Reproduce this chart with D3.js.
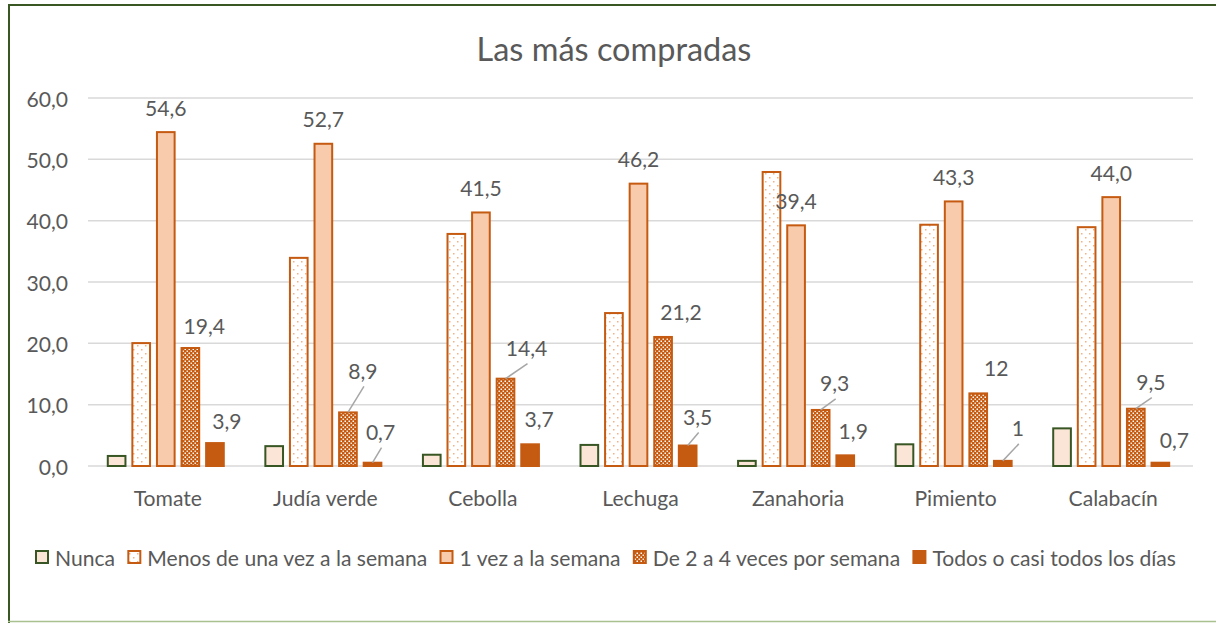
<!DOCTYPE html>
<html>
<head>
<meta charset="utf-8">
<script src="https://cdn.jsdelivr.net/npm/d3@7"></script>
<style>
  body { margin: 0; background: #fff; }
  text { font-family: Lato, "Open Sans", sans-serif; fill: #595959; }
</style>
</head>
<body>
<div id="chart"></div>
<script>
// chart values
const categories = ["Tomate", "Judía verde", "Cebolla", "Lechuga", "Zanahoria", "Pimiento", "Calabacín"];
const seriesNames = ["Nunca", "Menos de una vez a la semana", "1 vez a la semana",
  "De 2 a 4 veces por semana", "Todos o casi todos los días"];
const nunca = [1.8, 3.4, 2.0, 3.6, 1.0, 3.7, 6.3];
const menosUnaVez = [20.2, 34.1, 38.0, 25.1, 48.1, 39.5, 39.1];
const unaVez = [54.6, 52.7, 41.5, 46.2, 39.4, 43.3, 44.0];
const deDosACuatro = [19.4, 8.9, 14.4, 21.2, 9.3, 12, 9.5];
const todosLosDias = [3.9, 0.7, 3.7, 3.5, 1.9, 1, 0.7];
const yTicks = [0, 10, 20, 30, 40, 50, 60];

// hand-moved data labels: [dx, dy, leader line?] from the bar top
const shiftDe = [[14, -22, 0], [15, -41, 1], [21, -30, 1], [18, -24, 0], [14, -26, 1], [18, -25, 0], [15, -26, 1]];
const shiftTodos = [[12, -22, 0], [8, -30, 1], [9, -25, 0], [10, -28, 1], [8, -24, 0], [15, -32, 1], [14, -22, 0]];

const width = 1216, height = 623;
const svg = d3.select("#chart").append("svg")
  .attr("width", width)
  .attr("height", height);

const defs = svg.append("defs");
const dots = defs.append("pattern").attr("id", "dots")
  .attr("patternUnits", "userSpaceOnUse").attr("width", 8).attr("height", 8);
dots.append("rect").attr("width", 8).attr("height", 8).attr("fill", "#fff");
dots.append("rect").attr("x", 1).attr("y", 1).attr("width", 1.5).attr("height", 1.5).attr("fill", "#f4b183");
dots.append("rect").attr("x", 5).attr("y", 5).attr("width", 1.5).attr("height", 1.5).attr("fill", "#f4b183");

const conf = defs.append("pattern").attr("id", "confetti")
  .attr("patternUnits", "userSpaceOnUse").attr("width", 4).attr("height", 4);
conf.append("rect").attr("width", 4).attr("height", 4).attr("fill", "#c55a11");
conf.append("rect").attr("x", 0.5).attr("y", 0.5).attr("width", 1.5).attr("height", 1.5).attr("fill", "#fff");
conf.append("rect").attr("x", 2.5).attr("y", 2.5).attr("width", 1.5).attr("height", 1.5).attr("fill", "#fde9dc");

const styles = [
  {fill: "#fbe5d6", stroke: "#375623"},
  {fill: "url(#dots)", stroke: "#c55a11"},
  {fill: "#f8cbad", stroke: "#c55a11"},
  {fill: "url(#confetti)", stroke: "#c55a11"},
  {fill: "#c55a11", stroke: "#c55a11"}
];

// outer frame
svg.append("line").attr("x1", 9).attr("x2", 9).attr("y1", 4).attr("y2", 623)
  .attr("stroke", "#385723").attr("stroke-width", 2);
svg.append("line").attr("x1", 8).attr("x2", width).attr("y1", 5).attr("y2", 5)
  .attr("stroke", "#385723").attr("stroke-width", 2);
svg.append("line").attr("x1", 8).attr("x2", width).attr("y1", 621.5).attr("y2", 621.5)
  .attr("stroke", "#a9c18f").attr("stroke-width", 1.5);

// font size that gives a text a certain width
function fitSize(str, target) {
  const t = svg.append("text").attr("font-size", 100).text(str);
  const w = t.node().getComputedTextLength();
  t.remove();
  return 100 * target / w;
}
const fs = fitSize("Menos de una vez a la semana", 280);
const titleFs = fitSize("Las más compradas", 275);

const x0 = d3.scaleBand().domain(categories).range([89, 1192]);
const x1 = d3.scaleBand().domain(seriesNames).range([0, 118]).paddingInner(0.2);
const groupOff = (x0.bandwidth() - 118) / 2 - 2;
const y = d3.scaleLinear().domain([0, 60]).range([466, 98]);
const comma = d3.formatLocale({decimal: ",", thousands: ".", grouping: [3], currency: ["", "€"]});

svg.append("text")
  .attr("x", 614).attr("y", 48)
  .attr("text-anchor", "middle").attr("dominant-baseline", "central")
  .attr("font-size", titleFs)
  .text("Las más compradas");

// gridlines + y labels
svg.append("g").selectAll("line").data(yTicks).join("line")
  .attr("x1", 88).attr("x2", 1193)
  .attr("y1", d => y(d)).attr("y2", d => y(d))
  .attr("stroke", "#d9d9d9").attr("stroke-width", 1.5);
svg.append("g").selectAll("text").data(yTicks).join("text")
  .attr("x", 68).attr("y", d => y(d))
  .attr("text-anchor", "end").attr("dominant-baseline", "central")
  .attr("font-size", fs)
  .text(d => comma.format(".1f")(d));

svg.append("g").selectAll("text").data(categories).join("text")
  .attr("x", d => x0(d) + x0.bandwidth() / 2).attr("y", 497)
  .attr("text-anchor", "middle").attr("dominant-baseline", "central")
  .attr("font-size", fs)
  .text(d => d);

// bars
const seriesValues = [nunca, menosUnaVez, unaVez, deDosACuatro, todosLosDias];
const rows = [];
seriesValues.forEach((vals, s) => vals.forEach((v, i) => rows.push({s, i, v})));
const bx = d => x0(categories[d.i]) + groupOff + x1(seriesNames[d.s]);

svg.append("g").selectAll("rect").data(rows).join("rect")
  .attr("x", d => bx(d) + 1)
  .attr("y", d => y(d.v) + 1)
  .attr("width", x1.bandwidth() - 2)
  .attr("height", d => Math.max(0, y(0) - y(d.v) - 1))
  .attr("fill", d => styles[d.s].fill)
  .attr("stroke", d => styles[d.s].stroke)
  .attr("stroke-width", 2);

// data labels
const labels = [];
unaVez.forEach((v, i) => labels.push({s: 2, i, v, txt: comma.format(".1f")(v), sh: [0, -24, 0]}));
deDosACuatro.forEach((v, i) => labels.push({s: 3, i, v, txt: String(v).replace(".", ","), sh: shiftDe[i]}));
todosLosDias.forEach((v, i) => labels.push({s: 4, i, v, txt: String(v).replace(".", ","), sh: shiftTodos[i]}));
labels.forEach(d => {
  d.cx = bx(d) + x1.bandwidth() / 2;
  d.top = y(d.v);
  d.lx = d.cx + d.sh[0];
  d.ly = d.top + d.sh[1];
});

svg.append("g").selectAll("line").data(labels.filter(d => d.sh[2])).join("line")
  .attr("x1", d => d.lx + 1).attr("y1", d => d.ly + 16)
  .attr("x2", d => d.cx).attr("y2", d => d.top + 1)
  .attr("stroke", "#a6a6a6").attr("stroke-width", 1.5);

svg.append("g").selectAll("text").data(labels).join("text")
  .attr("x", d => d.lx).attr("y", d => d.ly)
  .attr("text-anchor", "middle").attr("dominant-baseline", "central")
  .attr("font-size", fs)
  .text(d => d.txt);

// legend
const legend = svg.append("g");
const items = seriesNames.map((n, s) => {
  const t = legend.append("text").attr("font-size", fs).text(n);
  return {t, s, w: 20 + t.node().getComputedTextLength()};
});
const totalW = d3.sum(items, d => d.w);
const gap = (1176 - 35 - totalW) / (items.length - 1);
let lx = 35;
items.forEach(it => {
  legend.append("rect")
    .attr("x", lx + 1).attr("y", 551).attr("width", 12).attr("height", 12)
    .attr("fill", styles[it.s].fill).attr("stroke", styles[it.s].stroke).attr("stroke-width", 2);
  it.t.attr("x", lx + 20).attr("y", 557).attr("dominant-baseline", "central");
  lx += it.w + gap;
});
</script>
</body>
</html>
